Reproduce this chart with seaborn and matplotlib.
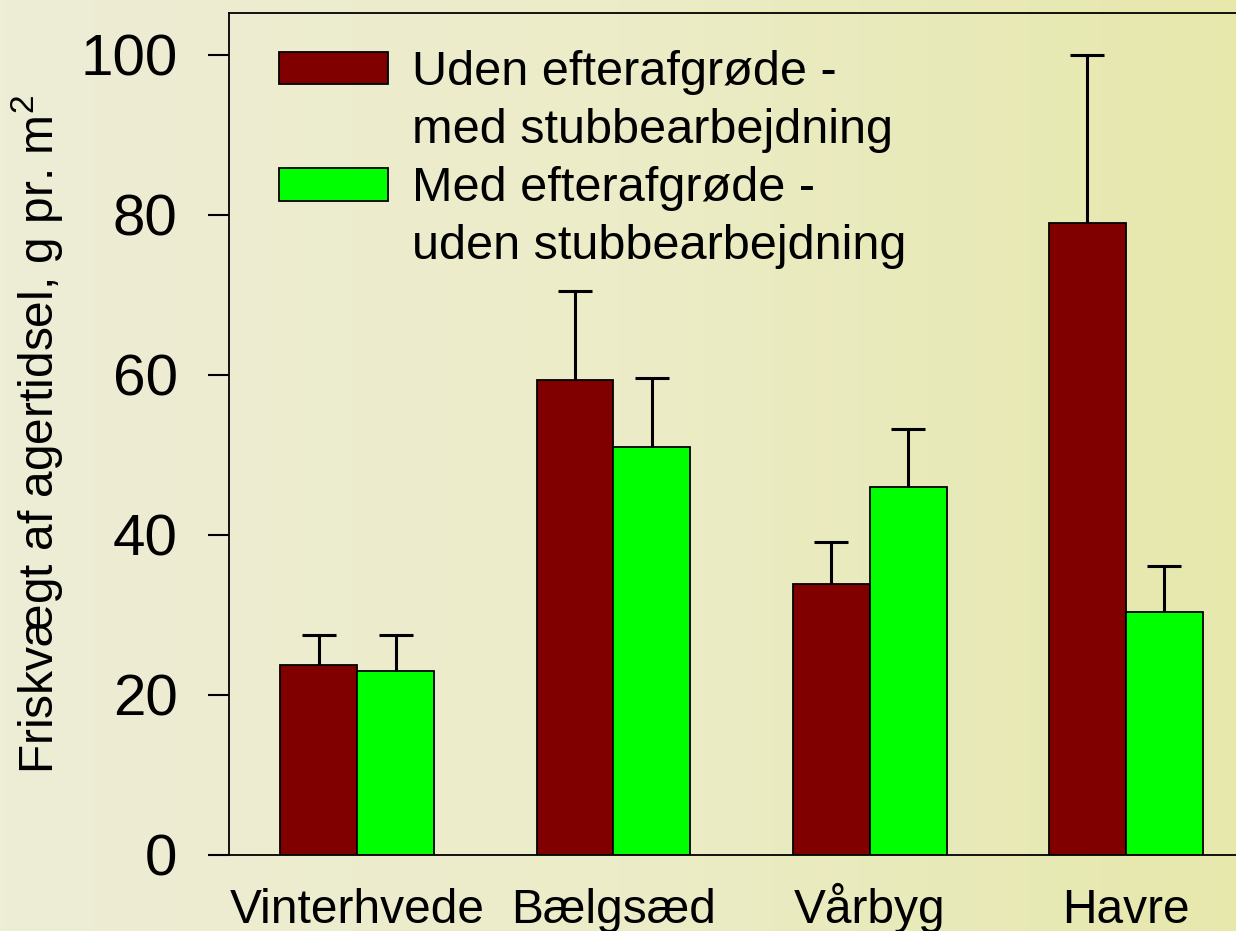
import numpy as np
import pandas as pd
import matplotlib as mpl
import matplotlib.pyplot as plt
from matplotlib.colors import LinearSegmentedColormap
from matplotlib.patches import Patch
import seaborn as sns

# data
crops = ["Vinterhvede", "Bælgsæd", "Vårbyg", "Havre"]
treatments = ["Uden efterafgrøde - med stubbearbejdning",
              "Med efterafgrøde - uden stubbearbejdning"]
legend_lines = [["Uden efterafgrøde -", "med stubbearbejdning"],
                ["Med efterafgrøde -", "uden stubbearbejdning"]]
uden_efter = [23.7, 59.4, 33.8, 79.0]
med_efter = [23.0, 51.0, 46.0, 30.4]
uden_efter_top = [27.5, 70.5, 39.1, 100.0]
med_efter_top = [27.5, 59.6, 53.2, 36.1]
yticks = [0, 20, 40, 60, 80, 100]

colors = ["#800000", "#00FF00"]

df = pd.DataFrame({
    "crop": crops * 2,
    "treatment": [treatments[0]] * 4 + [treatments[1]] * 4,
    "value": uden_efter + med_efter,
})
tops = [uden_efter_top, med_efter_top]

sns.set_style("white")
mpl.rcParams['font.family'] = ['Liberation Sans', 'DejaVu Sans']
mpl.rcParams['mathtext.fontset'] = 'custom'
mpl.rcParams['mathtext.rm'] = 'Liberation Sans'
mpl.rcParams['mathtext.it'] = 'Liberation Sans:italic'
mpl.rcParams['text.color'] = 'black'
mpl.rcParams['xtick.color'] = 'black'
mpl.rcParams['ytick.color'] = 'black'
mpl.rcParams['axes.labelcolor'] = 'black'

fig = plt.figure(figsize=(12.36, 9.31), dpi=100)

# soft yellow-green backdrop
bg = fig.add_axes([0, 0, 1, 1], zorder=-10)
cmap = LinearSegmentedColormap.from_list("bg", ["#EEEDD6", "#ECECC8", "#E6E8AC"])
bg.imshow(np.linspace(0, 1, 256).reshape(1, -1), aspect="auto", cmap=cmap, extent=[0, 1, 0, 1])
bg.set_axis_off()

ax = fig.add_axes([229 / 1236, 76 / 931, 1025 / 1236, 842 / 931])
ax.patch.set_alpha(0)

sns.barplot(data=df, x="crop", y="value", hue="treatment", palette=colors,
            width=0.6, edgecolor="black", linewidth=1.3, errorbar=None,
            saturation=1, legend=False, ax=ax)

# only the upper whisker with cap
for cont, top in zip(ax.containers, tops):
    for bar, t in zip(cont, top):
        xc = bar.get_x() + bar.get_width() / 2
        h = bar.get_height()
        _, caps, _ = ax.errorbar(xc, h, yerr=[[0], [t - h]], fmt="none",
                                 ecolor="black", elinewidth=2.2, capsize=12,
                                 capthick=2.2, zorder=1)
        for c in caps:
            if np.allclose(c.get_ydata(), h):
                c.set_visible(False)

ax.set_xlim(-0.5, 3.5)
ax.set_ylim(0, 105.2)
ax.set_yticks(yticks)
ax.tick_params(axis="y", labelsize=42, length=15, width=1.5, pad=22, left=True, direction="out")
ax.tick_params(axis="x", labelsize=34.5, length=0, pad=49)
for lab in ax.get_xticklabels():
    lab.set_verticalalignment("baseline")
ax.set_xlabel("")
ax.set_ylabel("Friskvægt af agertidsel, g pr. m$^2$", fontsize=34.5)
ax.yaxis.set_label_coords(-0.16, 0.5)

for side in ["left", "top", "bottom"]:
    ax.spines[side].set_visible(True)
    ax.spines[side].set_color("black")
    ax.spines[side].set_linewidth(1.3)
ax.spines["right"].set_visible(False)

# legend: swatch beside the first line of each two-line label
handles, labels = [], []
for col, lines in zip(colors, legend_lines):
    handles.append(Patch(facecolor=col, edgecolor="black", linewidth=1.3))
    labels.append(lines[0])
    handles.append(Patch(alpha=0))
    labels.append(lines[1])
ax.legend(handles, labels, loc="upper left", bbox_to_anchor=(0.0488, 0.956),
          frameon=False, fontsize=35, handlelength=2.24, handleheight=0.66,
          handletextpad=0.5, labelspacing=0.27, borderaxespad=0, borderpad=0)

fig.savefig("out.png", dpi=100)
